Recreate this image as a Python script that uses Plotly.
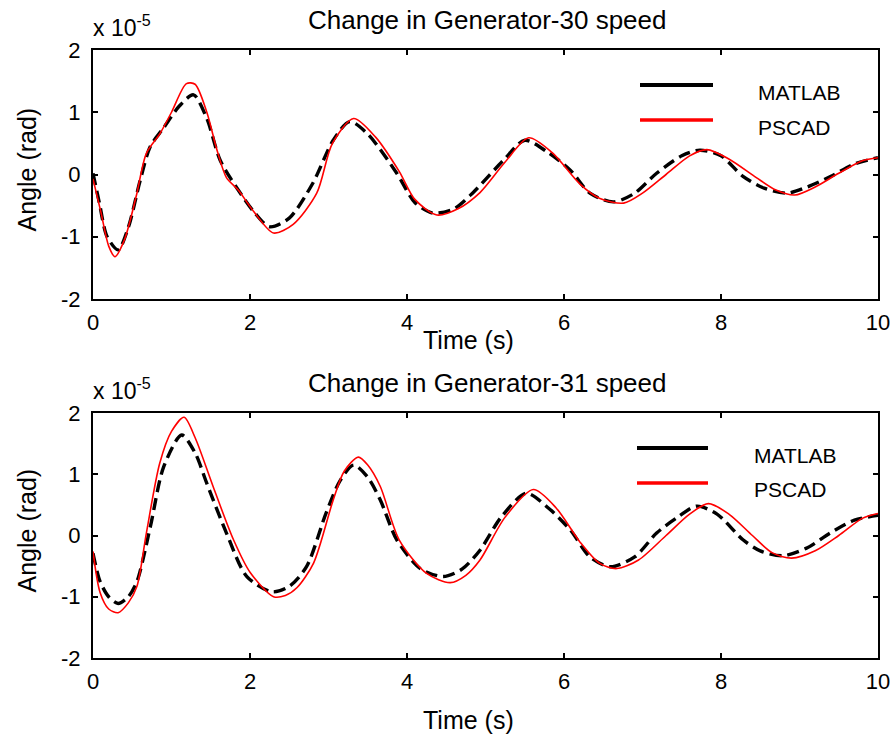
import plotly.graph_objects as go

# ---------------- data (values in units of 1e-5 rad) ----------------
exponent = -5
x_ticks = [0, 2, 4, 6, 8, 10]
y_ticks = [-2, -1, 0, 1, 2]
y_tick_text = ["-2", "-1", "0", "1", "2"]
titles = ["Change in Generator-30 speed", "Change in Generator-31 speed"]
series_names = ["MATLAB", "PSCAD"]

g30_matlab_t = [0.0, 0.08, 0.18, 0.32, 0.45, 0.6, 0.73, 0.9, 1.1, 1.28, 1.45, 1.62, 1.85, 2.05,
                2.25, 2.5, 2.8, 3.06, 3.27, 3.5, 3.87, 4.1, 4.33, 4.6, 4.85, 5.23, 5.5, 5.8,
                6.08, 6.33, 6.63, 6.9, 7.18, 7.5, 7.73, 8.0, 8.28, 8.55, 8.84, 9.1, 9.4, 9.7, 10.0]
g30_matlab_y = [0.02, -0.45, -1.0, -1.21, -0.85, -0.1, 0.45, 0.75, 1.1, 1.28, 0.9, 0.23, -0.25, -0.6,
                -0.84, -0.7, -0.14, 0.55, 0.85, 0.65, 0.02, -0.45, -0.62, -0.55, -0.28, 0.23, 0.55, 0.35,
                0.07, -0.3, -0.44, -0.3, 0.02, 0.3, 0.39, 0.3, -0.03, -0.22, -0.30, -0.2, -0.03, 0.17, 0.27]

g30_pscad_t = [0.0, 0.1, 0.2, 0.28, 0.4, 0.55, 0.68, 0.85, 1.0, 1.19, 1.3, 1.45, 1.58, 1.7, 1.85,
               2.05, 2.3, 2.55, 2.85, 3.05, 3.32, 3.6, 3.9, 4.1, 4.38, 4.65, 4.93, 5.25, 5.55,
               5.85, 6.2, 6.45, 6.76, 7.0, 7.3, 7.6, 7.82, 8.1, 8.45, 8.7, 8.94, 9.2, 9.5, 9.8, 10.0]
g30_pscad_y = [-0.07, -0.6, -1.15, -1.32, -1.05, -0.35, 0.34, 0.65, 1.0, 1.46, 1.45, 1.0, 0.39, -0.05, -0.25,
               -0.6, -0.94, -0.8, -0.3, 0.5, 0.90, 0.6, 0.05, -0.4, -0.65, -0.55, -0.29, 0.2, 0.59,
               0.35, -0.15, -0.38, -0.46, -0.3, 0.0, 0.3, 0.40, 0.25, -0.05, -0.25, -0.33, -0.2, 0.02, 0.22, 0.27]

g31_matlab_t = [0.0, 0.09, 0.2, 0.32, 0.45, 0.56, 0.73, 0.9, 1.13, 1.3, 1.45, 1.7, 1.96, 2.28, 2.5,
                2.72, 2.97, 3.15, 3.32, 3.5, 3.66, 3.87, 4.17, 4.46, 4.7, 4.93, 5.2, 5.52, 5.8,
                6.08, 6.33, 6.59, 6.9, 7.18, 7.45, 7.69, 7.95, 8.28, 8.5, 8.79, 9.1, 9.39, 9.7, 10.0]
g31_matlab_y = [-0.29, -0.75, -1.0, -1.11, -1.0, -0.75, 0.14, 1.12, 1.64, 1.35, 0.85, 0.04, -0.67, -0.92, -0.83,
                -0.51, 0.37, 0.9, 1.15, 0.95, 0.58, -0.07, -0.54, -0.67, -0.55, -0.24, 0.3, 0.69, 0.45,
                0.09, -0.35, -0.51, -0.35, 0.04, 0.3, 0.48, 0.35, -0.07, -0.25, -0.33, -0.2, 0.04, 0.25, 0.33]

g31_pscad_t = [0.0, 0.09, 0.2, 0.32, 0.45, 0.56, 0.68, 0.85, 1.0, 1.16, 1.3, 1.53, 1.79, 2.0, 2.3,
               2.45, 2.6, 2.81, 3.06, 3.2, 3.38, 3.5, 3.66, 3.9, 4.25, 4.55, 4.75, 4.93, 5.25,
               5.61, 5.9, 6.2, 6.45, 6.67, 6.95, 7.3, 7.6, 7.84, 8.1, 8.4, 8.65, 8.9, 9.2, 9.5, 9.8, 10.0]
g31_pscad_y = [-0.26, -0.93, -1.2, -1.26, -1.1, -0.83, 0.04, 1.18, 1.7, 1.93, 1.6, 0.80, -0.07, -0.6, -1.0,
               -0.98, -0.85, -0.45, 0.58, 1.05, 1.28, 1.15, 0.80, -0.07, -0.62, -0.77, -0.65, -0.40, 0.3,
               0.75, 0.45, -0.1, -0.45, -0.54, -0.4, 0.0, 0.35, 0.52, 0.35, 0.0, -0.28, -0.37, -0.25, 0.0, 0.28, 0.36]

# ---------------- figure ----------------
W, H = 894, 738
FONT = "Liberation Sans, Arial, sans-serif"

def px(v):
    return v / W

def py(v):
    return 1 - v / H

x_dom = [px(93), px(878)]
y_doms = [[py(299), py(50)], [py(658), py(413)]]
panel_tops = [50, 413]
panel_bottoms = [299, 658]
xtitle_offsets = [41, 62]

fig = go.Figure()

panels = [
    (g30_matlab_t, g30_matlab_y, g30_pscad_t, g30_pscad_y),
    (g31_matlab_t, g31_matlab_y, g31_pscad_t, g31_pscad_y),
]

for i, (mt, my, pt, pyv) in enumerate(panels):
    xa = "x" if i == 0 else "x2"
    ya = "y" if i == 0 else "y2"
    fig.add_trace(go.Scatter(x=mt, y=my, mode="lines", name=series_names[0],
                             line=dict(color="black", width=3.4, dash="12px,6px", shape="spline", smoothing=0.8),
                             xaxis=xa, yaxis=ya, showlegend=False))
    fig.add_trace(go.Scatter(x=pt, y=pyv, mode="lines", name=series_names[1],
                             line=dict(color="#ff0000", width=1.6, shape="spline", smoothing=0.8),
                             xaxis=xa, yaxis=ya, showlegend=False))

axis_common = dict(showline=True, linecolor="black", linewidth=2, mirror="ticks",
                   ticks="inside", ticklen=5, tickwidth=1.5, tickcolor="black",
                   showgrid=False, zeroline=False, automargin=False,
                   tickfont=dict(family=FONT, size=22, color="black"))

layout = dict(width=W, height=H, margin=dict(l=0, r=0, t=0, b=0, autoexpand=False),
              paper_bgcolor="white", plot_bgcolor="white",
              font=dict(family=FONT, color="black"), showlegend=False)

for i in range(2):
    sx = "" if i == 0 else "2"
    layout["xaxis" + sx] = dict(axis_common, domain=x_dom, range=[0, 10], tickvals=x_ticks,
                                ticklabelstandoff=3, anchor="y" + sx)
    layout["yaxis" + sx] = dict(axis_common, domain=y_doms[i], range=[-2, 2], tickvals=y_ticks,
                                ticktext=y_tick_text, ticklabelstandoff=6, anchor="x" + sx)

fig.update_layout(**layout)

annotations = []
shapes = []
for i in range(2):
    top = panel_tops[i]
    bot = panel_bottoms[i]
    # title
    annotations.append(dict(text=titles[i], x=px(486.5), y=py(top - 30), xref="paper", yref="paper",
                            xanchor="center", yanchor="middle", showarrow=False,
                            font=dict(family=FONT, size=26, color="black")))
    # exponent label
    annotations.append(dict(text="x 10<sup>%d</sup>" % exponent, x=px(91), y=py(top - 7),
                            xref="paper", yref="paper", xanchor="left", yanchor="bottom",
                            showarrow=False, font=dict(family=FONT, size=23, color="black")))
    # x title
    annotations.append(dict(text="Time (s)", x=px(468), y=py(bot + xtitle_offsets[i]), xref="paper",
                            yref="paper", xanchor="center", yanchor="middle", showarrow=False,
                            font=dict(family=FONT, size=25, color="black")))
    # y title
    annotations.append(dict(text="Angle (rad)", x=px(26), y=py((top + bot) / 2 - 5), xref="paper",
                            yref="paper", xanchor="center", yanchor="middle", textangle=-90,
                            showarrow=False, font=dict(family=FONT, size=25, color="black")))
    # legend
    leg_x0 = 640 if i == 0 else 637
    leg_x1 = 713 if i == 0 else 708
    leg_tx = 756 if i == 0 else 752
    for j, (name, color, w) in enumerate([(series_names[0], "black", 4), (series_names[1], "#ff0000", 3.5)]):
        ly = top + 35 + 35 * j
        shapes.append(dict(type="line", xref="paper", yref="paper", x0=px(leg_x0), x1=px(leg_x1),
                           y0=py(ly), y1=py(ly), line=dict(color=color, width=w)))
        annotations.append(dict(text=name, x=px(leg_tx), y=py(ly + 7), xref="paper", yref="paper",
                                xanchor="left", yanchor="middle", showarrow=False,
                                font=dict(family=FONT, size=21, color="black")))

fig.update_layout(annotations=annotations, shapes=shapes)

fig.write_html("out.html", config={"displayModeBar": False},
               post_script="document.body.style.margin='0';document.body.style.overflow='hidden';")
